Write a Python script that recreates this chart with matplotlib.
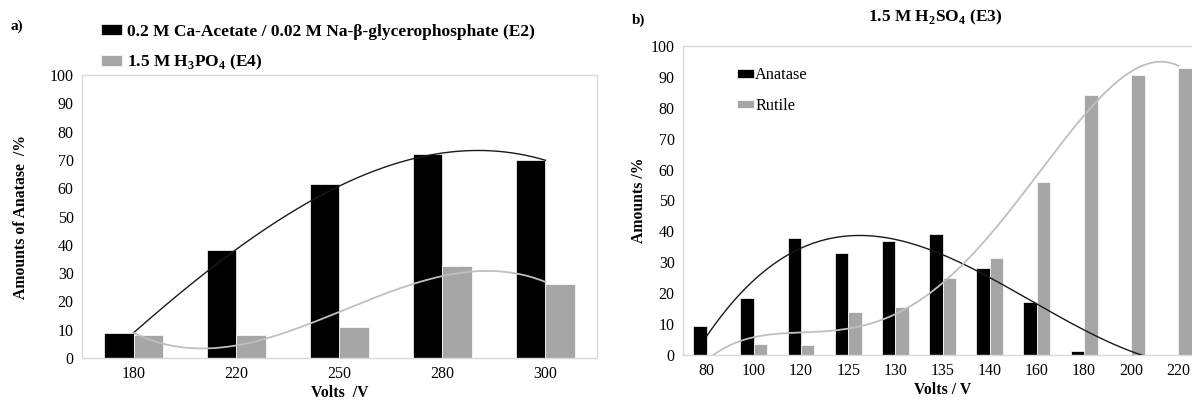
import matplotlib.pyplot as plt
import numpy as np

plt.rcParams['font.family'] = ['Liberation Serif', 'DejaVu Serif']
plt.rcParams['mathtext.fontset'] = 'custom'
plt.rcParams['mathtext.rm'] = 'Liberation Serif'
plt.rcParams['mathtext.bf'] = 'Liberation Serif:bold'

# data, panel a
volts_a = ['180', '220', '250', '280', '300']
e2_anatase = [9, 38, 61.5, 72, 70]
e4_anatase = [8, 8, 11, 32.5, 26]

# data, panel b
volts_b = ['80', '100', '120', '125', '130', '135', '140', '160', '180', '200', '220']
e3_anatase = [9.5, 18.5, 38, 33, 37, 39, 28, 17, 1.2, 0, 0]
e3_rutile = [0, 3.5, 3.2, 14, 15.5, 25, 31.5, 56, 84, 90.5, 93]

BLACK = '#000000'
GRAY = '#a6a6a6'
SPINE = '#d9d9d9'
W = 0.285

fig = plt.figure(figsize=(11.92, 4.03), dpi=100)


def trend(ax, vals, order, color, lw):
    # polynomial trendline like excel
    x = np.arange(len(vals))
    c = np.polyfit(x, vals, order)
    xs = np.linspace(0, len(vals) - 1, 300)
    ax.plot(xs, np.polyval(c, xs), color=color, lw=lw, zorder=3)


def style(ax, n):
    ax.set_ylim(0, 100)
    ax.set_yticks(range(0, 101, 10))
    ax.set_xlim(-0.5, n - 0.5)
    ax.set_xticks(range(n))
    ax.tick_params(length=0, labelsize=11.5, pad=6)
    for s in ax.spines.values():
        s.set_color(SPINE)
        s.set_linewidth(1)


# ---- a) ----
ax1 = fig.add_axes([0.0688, 0.1117, 0.432, 0.702])
x = np.arange(len(volts_a))
ax1.bar(x - W / 2, e2_anatase, W, color=BLACK, edgecolor='white', lw=0.5,
        label='0.2 M Ca-Acetate / 0.02 M Na-β-glycerophosphate (E2)')
ax1.bar(x + W / 2, e4_anatase, W, color=GRAY, edgecolor='white', lw=0.5,
        label=r'1.5 M H$_\mathbf{3}$PO$_\mathbf{4}$ (E4)')
trend(ax1, e2_anatase, 3, '#1a1a1a', 1.0)
trend(ax1, e4_anatase, 3, '#bfbfbf', 1.3)
style(ax1, len(volts_a))
ax1.set_xticklabels(volts_a)
ax1.set_xlabel('Volts  /V', fontweight='bold', fontsize=11.3, labelpad=2)
ax1.set_ylabel('Amounts of Anatase  /%', fontweight='bold', fontsize=11.3, labelpad=15)
ax1.legend(loc='upper left', bbox_to_anchor=(0.072, 0.98), bbox_transform=fig.transFigure,
           frameon=False, prop={'weight': 'bold', 'size': 12.5},
           handlelength=1.2, handleheight=0.6, handletextpad=0.3, labelspacing=0.75)
fig.text(0.009, 0.925, 'a)', fontweight='bold', fontsize=11)

# ---- b) ----
ax2 = fig.add_axes([0.573, 0.119, 0.4354, 0.767])
x = np.arange(len(volts_b))
ax2.bar(x - W / 2, e3_anatase, W, color=BLACK, edgecolor='white', lw=0.5, label='Anatase')
ax2.bar(x + W / 2, e3_rutile, W, color=GRAY, edgecolor='white', lw=0.5, label='Rutile')
trend(ax2, e3_anatase, 3, '#1a1a1a', 1.0)
trend(ax2, e3_rutile, 4, '#bfbfbf', 1.3)
style(ax2, len(volts_b))
ax2.set_xticklabels(volts_b)
ax2.set_xlabel('Volts / V', fontweight='bold', fontsize=11.3, labelpad=2)
ax2.set_ylabel('Amounts /%', fontweight='bold', fontsize=11.3, labelpad=3)
ax2.set_title(r'1.5 M H$_\mathbf{2}$SO$_\mathbf{4}$ (E3)', fontweight='bold', fontsize=12.5, pad=18,
              x=0.485)
ax2.legend(loc='upper left', bbox_to_anchor=(0.075, 0.978), frameon=False,
           prop={'size': 11.7}, handlelength=1.1, handleheight=0.4, handletextpad=0.05,
           labelspacing=0.9)
fig.text(0.53, 0.94, 'b)', fontweight='bold', fontsize=11)

fig.savefig('out.png', dpi=100)
